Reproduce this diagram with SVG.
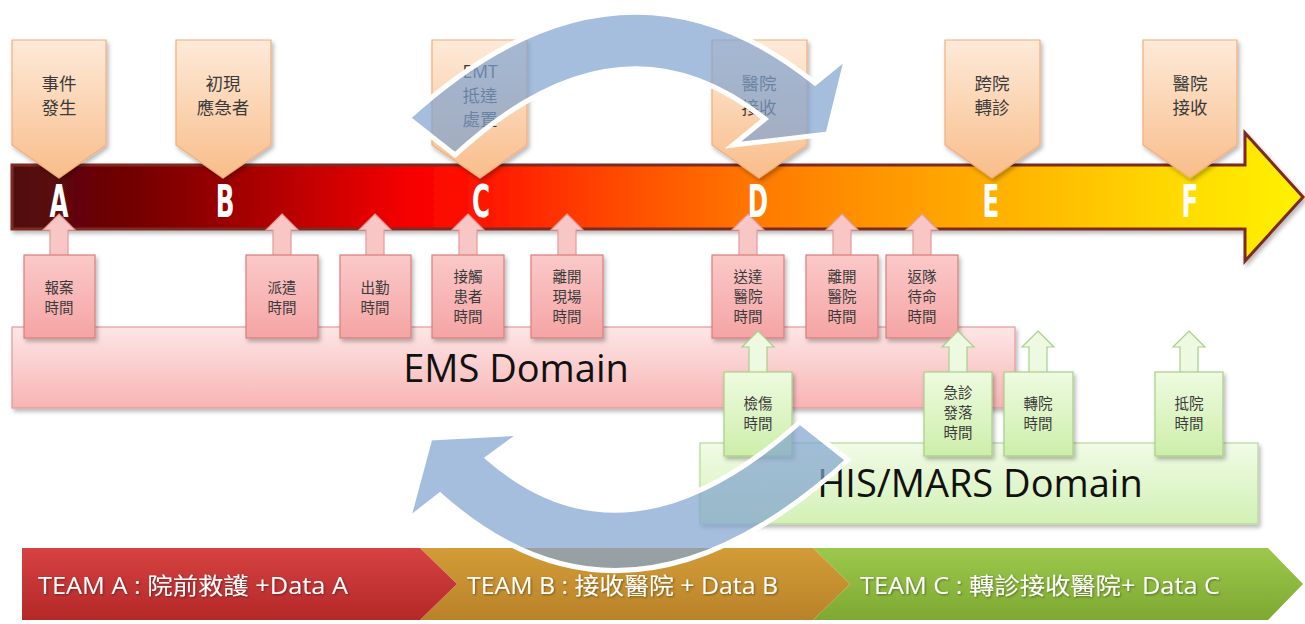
<svg xmlns="http://www.w3.org/2000/svg" width="1305" height="624" viewBox="0 0 1305 624">
<style>
.topbox{fill:url(#gTop);stroke:#f2ae7c;stroke-width:1.2;filter:url(#sh)}
.toptxt{font-family:'Open Sans','Noto Sans CJK TC',sans-serif;font-size:17.5px;fill:#3a3a3a;text-anchor:middle}
.letter{font-family:'DejaVu Sans Condensed','DejaVu Sans',sans-serif;font-weight:bold;font-size:44px;fill:#ffffff;text-anchor:middle}
.pbox{fill:url(#gPink);stroke:#d97e7e;stroke-width:1.2;filter:url(#sh)}
.parr{fill:#f9c6c6;stroke:#e49a9a;stroke-width:1.2}
.gbox{fill:url(#gGreen);stroke:#a8cf88;stroke-width:1.2;filter:url(#sh)}
.garr{fill:#eef9e2;stroke:#a8cf88;stroke-width:1.2}
.stxt{font-family:'Noto Sans CJK TC',sans-serif;font-size:14.5px;fill:#3a3a3a;text-anchor:middle}
.dom{font-family:'Open Sans','Noto Sans',sans-serif;font-size:38px;fill:#111111;text-anchor:middle}
.team{font-family:'Open Sans','Noto Sans CJK TC',sans-serif;font-size:23px;fill:#ffffff}
.blue{fill:#7fa3d0;fill-opacity:0.7;stroke:#ffffff;stroke-width:5;stroke-linejoin:miter}
</style>
<defs>
<linearGradient id="gBar" x1="12" y1="0" x2="1303" y2="0" gradientUnits="userSpaceOnUse">
<stop offset="0" stop-color="#4f0a0e"/>
<stop offset="0.1" stop-color="#760202"/>
<stop offset="0.2" stop-color="#b00000"/>
<stop offset="0.31" stop-color="#f80000"/>
<stop offset="0.37" stop-color="#ff1800"/>
<stop offset="0.47" stop-color="#ff4a00"/>
<stop offset="0.58" stop-color="#ff7a00"/>
<stop offset="0.76" stop-color="#ffb000"/>
<stop offset="0.91" stop-color="#ffdc00"/>
<stop offset="1" stop-color="#fff200"/>
</linearGradient>
<linearGradient id="gTop" x1="0" y1="0" x2="0" y2="1">
<stop offset="0" stop-color="#fdead9"/>
<stop offset="1" stop-color="#f9bd8a"/>
</linearGradient>
<linearGradient id="gPink" x1="0" y1="0" x2="0" y2="1">
<stop offset="0" stop-color="#fbc9c9"/>
<stop offset="1" stop-color="#f5a4a4"/>
</linearGradient>
<linearGradient id="gEms" x1="0" y1="0" x2="0" y2="1">
<stop offset="0" stop-color="#fde6e6"/>
<stop offset="1" stop-color="#f8b4b4"/>
</linearGradient>
<linearGradient id="gGreen" x1="0" y1="0" x2="0" y2="1">
<stop offset="0" stop-color="#eefbe0"/>
<stop offset="1" stop-color="#cdeeaa"/>
</linearGradient>
<linearGradient id="gHis" x1="0" y1="0" x2="0" y2="1">
<stop offset="0" stop-color="#f1fbe6"/>
<stop offset="1" stop-color="#d2f1b5"/>
</linearGradient>
<linearGradient id="gA" x1="0" y1="0" x2="0" y2="1">
<stop offset="0" stop-color="#d64242"/>
<stop offset="1" stop-color="#b42828"/>
</linearGradient>
<linearGradient id="gB" x1="0" y1="0" x2="0" y2="1">
<stop offset="0" stop-color="#d39c38"/>
<stop offset="1" stop-color="#b98228"/>
</linearGradient>
<linearGradient id="gC" x1="0" y1="0" x2="0" y2="1">
<stop offset="0" stop-color="#9cc84c"/>
<stop offset="1" stop-color="#7da932"/>
</linearGradient>
<filter id="sh" x="-20%" y="-20%" width="140%" height="150%">
<feDropShadow dx="2" dy="3" stdDeviation="2" flood-color="#000000" flood-opacity="0.28"/>
</filter>
<filter id="tsh" x="-5%" y="-20%" width="110%" height="150%">
<feDropShadow dx="1" dy="1" stdDeviation="1" flood-color="#000000" flood-opacity="0.4"/>
</filter>
<path id="upArr" d="M0,0 L16,16 L9,16 L9,42 L-9,42 L-9,16 L-16,16 Z"/>
</defs>

<g id="timeline">
<path d="M12,165 L1245,165 L1245,133 L1303,197 L1245,261 L1245,229 L12,229 Z" fill="url(#gBar)" stroke="#7b2c22" stroke-width="3" stroke-linejoin="miter" filter="url(#sh)"/>
</g>

<g id="top-A"><path class="topbox" d="M12,40 L106,40 L106,145 L59,178 L12,145 Z"/>
<text class="toptxt" x="59" y="90">事件</text><text class="toptxt" x="59" y="114">發生</text></g>
<g id="top-B"><path class="topbox" d="M176,40 L271,40 L271,145 L223,178 L176,145 Z"/>
<text class="toptxt" x="223" y="90">初現</text><text class="toptxt" x="223" y="114">應急者</text></g>
<g id="top-C"><path class="topbox" d="M432,40 L527,40 L527,145 L480,178 L432,145 Z"/>
<text class="toptxt" x="480" y="78">EMT</text><text class="toptxt" x="480" y="102">抵達</text><text class="toptxt" x="480" y="126">處置</text></g>
<g id="top-D"><path class="topbox" d="M712,40 L807,40 L807,145 L759,178 L712,145 Z"/>
<text class="toptxt" x="759" y="90">醫院</text><text class="toptxt" x="759" y="114">接收</text></g>
<g id="top-E"><path class="topbox" d="M945,40 L1040,40 L1040,145 L992,178 L945,145 Z"/>
<text class="toptxt" x="992" y="90">跨院</text><text class="toptxt" x="992" y="114">轉診</text></g>
<g id="top-F"><path class="topbox" d="M1143,40 L1237,40 L1237,145 L1190,178 L1143,145 Z"/>
<text class="toptxt" x="1190" y="90">醫院</text><text class="toptxt" x="1190" y="114">接收</text></g>

<g id="ems-domain">
<rect x="12" y="327" width="1003" height="81" fill="url(#gEms)" stroke="#e29c9c" stroke-width="1.2" filter="url(#sh)"/>
<text class="dom" x="516" y="382">EMS Domain</text>
</g>

<g id="connectors">
<use href="#upArr" class="parr" x="59" y="214"/>
<use href="#upArr" class="parr" x="282" y="214"/>
<use href="#upArr" class="parr" x="375" y="214"/>
<use href="#upArr" class="parr" x="468" y="214"/>
<use href="#upArr" class="parr" x="567" y="214"/>
<use href="#upArr" class="parr" x="748" y="214"/>
<use href="#upArr" class="parr" x="842" y="214"/>
<use href="#upArr" class="parr" x="922" y="214"/>
</g>

<g id="letters">
<text class="letter" transform="translate(59,217) scale(0.62,1)">A</text>
<text class="letter" transform="translate(225,217) scale(0.62,1)">B</text>
<text class="letter" transform="translate(481,217) scale(0.62,1)">C</text>
<text class="letter" transform="translate(758,217) scale(0.62,1)">D</text>
<text class="letter" transform="translate(991,217) scale(0.62,1)">E</text>
<text class="letter" transform="translate(1190,217) scale(0.62,1)">F</text>
</g>

<g id="t-report"><rect class="pbox" x="24" y="255" width="71" height="83"/>
<text class="stxt" x="59" y="293">報案</text><text class="stxt" x="59" y="313">時間</text></g>
<g id="t-dispatch"><rect class="pbox" x="246" y="255" width="72" height="83"/>
<text class="stxt" x="282" y="293">派遣</text><text class="stxt" x="282" y="313">時間</text></g>
<g id="t-depart"><rect class="pbox" x="340" y="255" width="71" height="83"/>
<text class="stxt" x="375" y="293">出勤</text><text class="stxt" x="375" y="313">時間</text></g>
<g id="t-contact"><rect class="pbox" x="432" y="255" width="72" height="83"/>
<text class="stxt" x="468" y="282">接觸</text><text class="stxt" x="468" y="302">患者</text><text class="stxt" x="468" y="322">時間</text></g>
<g id="t-leave-scene"><rect class="pbox" x="531" y="255" width="72" height="83"/>
<text class="stxt" x="567" y="282">離開</text><text class="stxt" x="567" y="302">現場</text><text class="stxt" x="567" y="322">時間</text></g>
<g id="t-arrive-hosp"><rect class="pbox" x="712" y="255" width="72" height="83"/>
<text class="stxt" x="748" y="282">送達</text><text class="stxt" x="748" y="302">醫院</text><text class="stxt" x="748" y="322">時間</text></g>
<g id="t-leave-hosp"><rect class="pbox" x="806" y="255" width="72" height="83"/>
<text class="stxt" x="842" y="282">離開</text><text class="stxt" x="842" y="302">醫院</text><text class="stxt" x="842" y="322">時間</text></g>
<g id="t-return"><rect class="pbox" x="886" y="255" width="72" height="83"/>
<text class="stxt" x="922" y="282">返隊</text><text class="stxt" x="922" y="302">待命</text><text class="stxt" x="922" y="322">時間</text></g>

<g id="his-domain">
<rect x="700" y="443" width="558" height="81" fill="url(#gHis)" stroke="#b5d99a" stroke-width="1.2" filter="url(#sh)"/>
<text class="dom" x="980" y="497">HIS/MARS Domain</text>
</g>

<g id="connectors-green">
<use href="#upArr" class="garr" x="758" y="331"/>
<use href="#upArr" class="garr" x="958" y="331"/>
<use href="#upArr" class="garr" x="1038" y="331"/>
<use href="#upArr" class="garr" x="1189" y="331"/>
</g>

<g id="t-triage"><rect class="gbox" x="724" y="372" width="68" height="84"/>
<text class="stxt" x="758" y="409">檢傷</text><text class="stxt" x="758" y="429">時間</text></g>
<g id="t-er"><rect class="gbox" x="924" y="372" width="68" height="84"/>
<text class="stxt" x="958" y="398">急診</text><text class="stxt" x="958" y="418">發落</text><text class="stxt" x="958" y="438">時間</text></g>
<g id="t-transfer"><rect class="gbox" x="1004" y="372" width="69" height="84"/>
<text class="stxt" x="1038" y="409">轉院</text><text class="stxt" x="1038" y="429">時間</text></g>
<g id="t-arrive"><rect class="gbox" x="1155" y="372" width="68" height="84"/>
<text class="stxt" x="1189" y="409">抵院</text><text class="stxt" x="1189" y="429">時間</text></g>

<g id="teams">
<path d="M813,548 L1268,548 L1303,584 L1268,620 L813,620 L850,584 Z" fill="url(#gC)"/>
<path d="M420,548 L813,548 L850,584 L813,620 L420,620 L457,584 Z" fill="url(#gB)"/>
<path d="M22,548 L420,548 L457,584 L420,620 L22,620 Z" fill="url(#gA)"/>
<text class="team" x="38" y="594" textLength="310" lengthAdjust="spacingAndGlyphs" filter="url(#tsh)">TEAM A : 院前救護 +Data A</text>
<text class="team" x="467" y="594" textLength="311" lengthAdjust="spacingAndGlyphs" filter="url(#tsh)">TEAM B : 接收醫院 + Data B</text>
<text class="team" x="860" y="594" textLength="360" lengthAdjust="spacingAndGlyphs" filter="url(#tsh)">TEAM C : 轉診接收醫院+ Data C</text>
</g>

<g id="cycle-arrows">
<path class="blue" d="M408,118 Q618.5,-74.5 815,83 L847,57 L828,134 L733,145 L765,119 Q620,3 455,155 Z"/>
<path class="blue" d="M848,460 Q626,662 440,495 L408,520 L430,438 L522,433 L488,458 Q626,578 800,422 Z"/>
</g>
</svg>
